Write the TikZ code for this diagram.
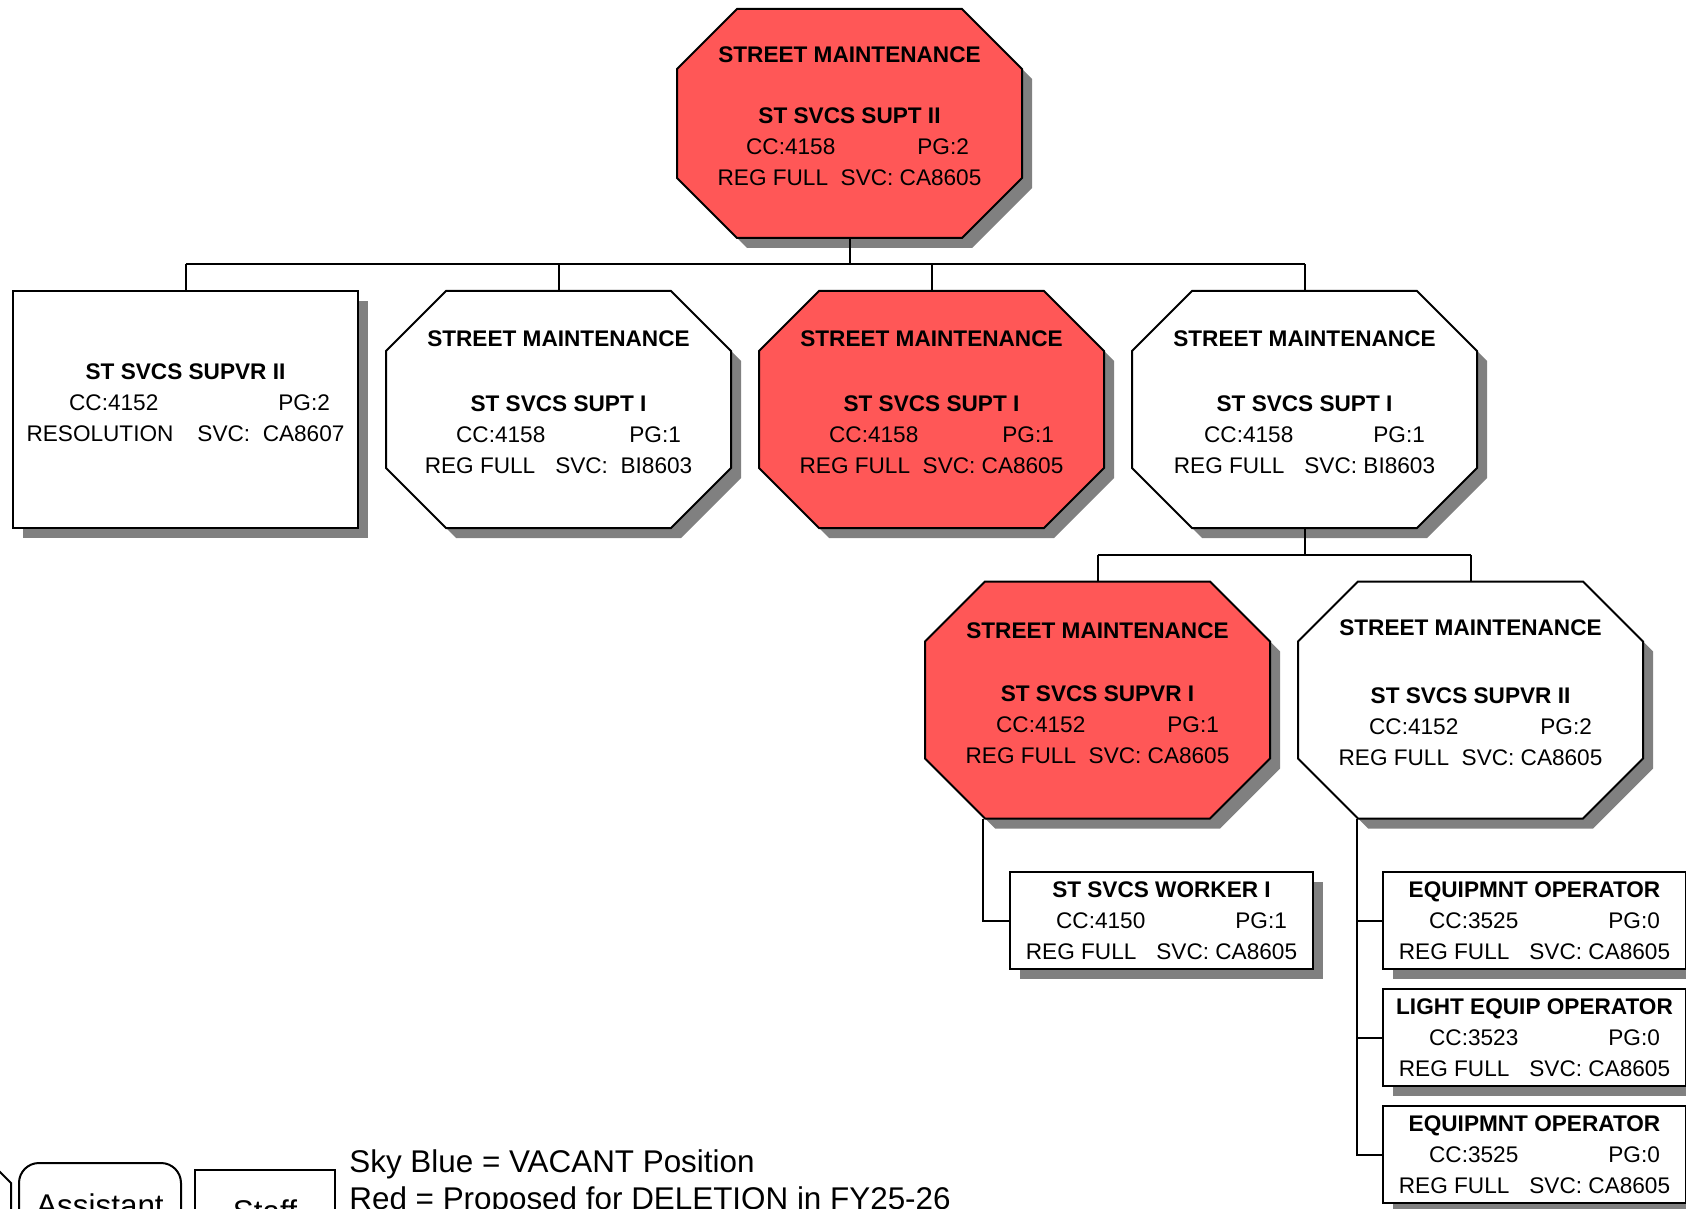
\documentclass[tikz,border=0pt]{standalone}
\usepackage{fontspec}
\setmainfont{Liberation Sans}
\usetikzlibrary{positioning,shadows,backgrounds}

\definecolor{cutred}{RGB}{255,87,87}
\definecolor{shadowgray}{RGB}{128,128,128}

\begin{document}
\begin{tikzpicture}[
    x=0.5pt, y=-0.5pt,
    node distance=14pt,
    every node/.style={font=\fontsize{11.3}{15.5}\selectfont},
    post/.style={rectangle, outer sep=0pt, minimum width=172.5pt, minimum height=118.5pt, text depth=7pt, align=center, inner sep=2pt},
    octpath/.style 2 args={insert path={([xshift=#2]#1.north west) -- ([xshift=-#2]#1.north east) -- ([yshift=-#2]#1.north east) -- ([yshift=#2]#1.south east) -- ([xshift=-#2]#1.south east) -- ([xshift=#2]#1.south west) -- ([yshift=#2]#1.south west) -- ([yshift=-#2]#1.north west) -- cycle}},
    outline/.style={draw, line width=1pt, drop shadow={shadow xshift=5pt, shadow yshift=-5pt, fill=shadowgray, opacity=1}},
    plainpost/.style={post, outline, fill=white},
    worker/.style={outline, rectangle, outer sep=0pt, minimum width=151.5pt, minimum height=48.5pt, align=center, inner sep=1pt, fill=white},
    link/.style={line width=1pt},
    legend/.style={font=\fontsize{15.7}{18.8}\selectfont, inner sep=0pt}
]
\path[use as bounding box, clip] (0,0) rectangle (1686,1209);

% top
\node[post, minimum height=114.5pt] (supt2) at (849.5,123.5) {\textbf{STREET MAINTENANCE}\\[15pt]\textbf{ST SVCS SUPT II}\\\hspace*{8pt}CC:4158\hspace{41pt}PG:2\\REG FULL\ \ SVC: CA8605};

% second row
\node[plainpost] (supvr2) at (185.5,409.5) {\textbf{ST SVCS SUPVR II}\\\hspace*{14pt}CC:4152\hspace{60pt}PG:2\\RESOLUTION\hspace{12pt}SVC:\ \ CA8607};
\node[post, right=of supvr2] (supt1a) {\textbf{STREET MAINTENANCE}\\[17pt]\textbf{ST SVCS SUPT I}\\\hspace*{10pt}CC:4158\hspace{42pt}PG:1\\REG FULL\hspace{10pt}SVC:\ \ BI8603};
\node[post, right=of supt1a] (supt1b) {\textbf{STREET MAINTENANCE}\\[17pt]\textbf{ST SVCS SUPT I}\\\hspace*{10pt}CC:4158\hspace{42pt}PG:1\\REG FULL\ \ SVC: CA8605};
\node[post, right=of supt1b] (supt1c) {\textbf{STREET MAINTENANCE}\\[17pt]\textbf{ST SVCS SUPT I}\\\hspace*{10pt}CC:4158\hspace{40pt}PG:1\\REG FULL\hspace{10pt}SVC: BI8603};

% third row
\node[post] (supvr1) at (1097.5,700) {\textbf{STREET MAINTENANCE}\\[16pt]\textbf{ST SVCS SUPVR I}\\\hspace*{10pt}CC:4152\hspace{41pt}PG:1\\REG FULL\ \ SVC: CA8605};
\node[post, right=of supvr1] (supvr2b) {\textbf{STREET MAINTENANCE}\\[18.5pt]\textbf{ST SVCS SUPVR II}\\\hspace*{10pt}CC:4152\hspace{41pt}PG:2\\REG FULL\ \ SVC: CA8605};

% octagon outlines behind the texts
\begin{scope}[on background layer]
\foreach \n/\c in {supt2/cutred, supt1a/white, supt1b/cutred, supt1c/white, supvr1/cutred, supvr2b/white}
    \path[outline, fill=\c, octpath={\n}{30pt}];
\end{scope}

% workers
\node[worker] (worker1) at (1161.5,920.5) {\textbf{ST SVCS WORKER I}\\\hspace*{10pt}CC:4150\hspace{45pt}PG:1\\REG FULL\hspace{10pt}SVC: CA8605};
\node[worker] (equip1) at (1534.5,920.5) {\textbf{EQUIPMNT OPERATOR}\\\hspace*{10pt}CC:3525\hspace{45pt}PG:0\\REG FULL\hspace{10pt}SVC: CA8605};
\node[worker, below=10pt of equip1] (light1) {\textbf{LIGHT EQUIP OPERATOR}\\\hspace*{10pt}CC:3523\hspace{45pt}PG:0\\REG FULL\hspace{10pt}SVC: CA8605};
\node[worker, below=10pt of light1] (equip2) {\textbf{EQUIPMNT OPERATOR}\\\hspace*{10pt}CC:3525\hspace{45pt}PG:0\\REG FULL\hspace{10pt}SVC: CA8605};

% connectors
\coordinate (bar1) at ([yshift=-13.25pt]supt2.south);
\draw[link] (supt2.south) -- (bar1);
\draw[link] (bar1 -| supvr2.north) -- (bar1 -| supt1c.north);
\foreach \n in {supvr2,supt1a,supt1b,supt1c}
    \draw[link] (bar1 -| \n.north) -- (\n.north);

\coordinate (bar2) at ([yshift=-13.5pt]supt1c.south);
\draw[link] (supt1c.south) -- (bar2);
\draw[link] (bar2 -| supvr1.north) -- (bar2 -| supvr2b.north);
\draw[link] (bar2 -| supvr1.north) -- (supvr1.north);
\draw[link] (bar2 -| supvr2b.north) -- (supvr2b.north);

\coordinate (tapE) at ([xshift=-13.5pt]worker1.west);
\draw[link] (tapE |- supvr1.south) |- (worker1.west);
\coordinate (tapF) at ([xshift=-13pt]equip1.west);
\draw[link] (tapF |- supvr2b.south) |- (equip2.west);
\draw[link] (tapF |- equip1.west) -- (equip1.west);
\draw[link] (tapF |- light1.west) -- (light1.west);

% legend
\node[rectangle, outer sep=0pt, minimum width=75pt, minimum height=42pt] (legMgr) at (-64,1205) {};
\path[draw, line width=1pt, octpath={legMgr}{10pt}];
\node[legend, draw, line width=1pt, rounded corners=10pt, minimum width=81pt, minimum height=42pt] (legAsst) at (100,1205) {Assistant};
\node[legend, draw, line width=1pt, minimum width=70pt, minimum height=41pt] (legStaff) at (265,1211) {Staff};
\node[legend, anchor=base west] (legBlue) at (349,1172) {Sky Blue = VACANT Position};
\node[legend, anchor=base west] (legRed) at (349,1209.6) {Red = Proposed for DELETION in FY25-26};
\end{tikzpicture}
\end{document}
